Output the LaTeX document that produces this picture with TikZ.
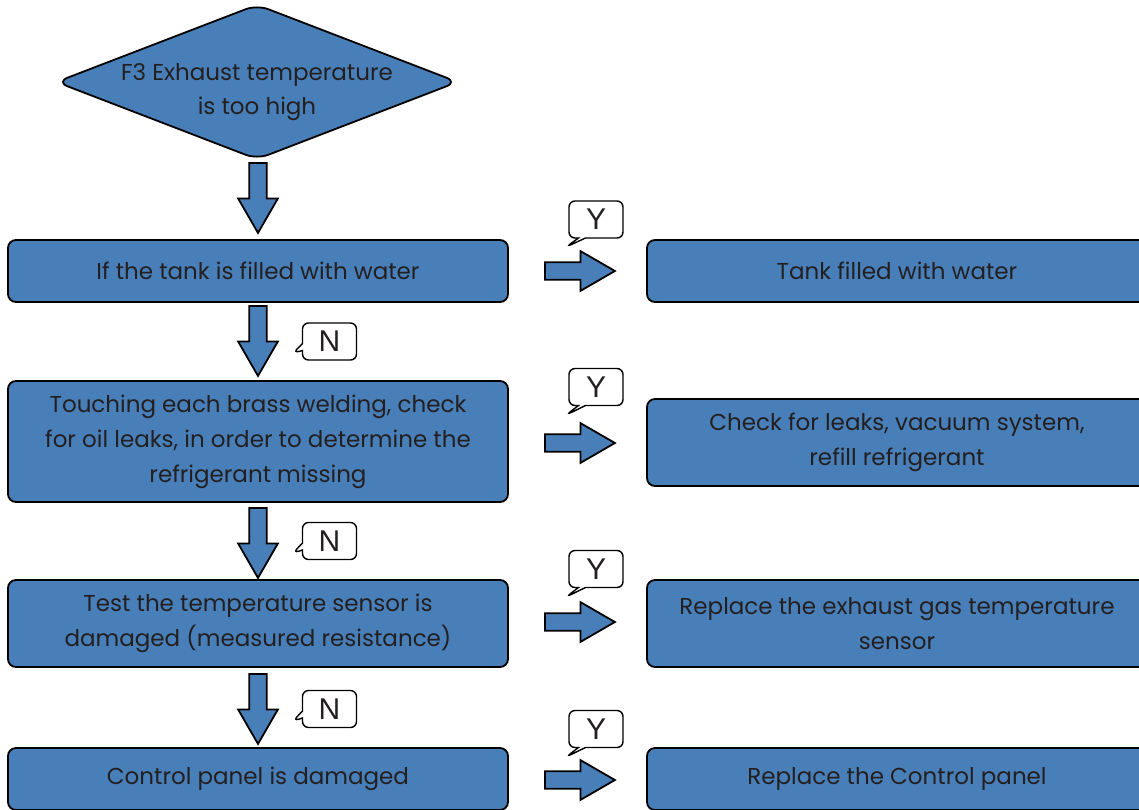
\documentclass[tikz,border=0pt]{standalone}
\usepackage{fontspec}
\setmainfont{Poppins}
\newfontfamily\tagfont{Liberation Sans}
\usetikzlibrary{shapes.geometric,shapes.arrows,shapes.callouts}

\definecolor{boxblue}{RGB}{72,127,184}
\definecolor{inkgray}{RGB}{35,31,32}

\tikzset{
	stepbox/.style={draw=black, fill=boxblue, line width=0.9pt, rounded corners=4pt,
		minimum width=250pt, inner sep=0pt, text=inkgray, align=center,
		font=\fontsize{11.5}{17.5}\selectfont},
	startbox/.style={draw=black, fill=boxblue, line width=0.9pt, shape=diamond, aspect=2.6,
		minimum width=201pt, minimum height=77.5pt, inner sep=0pt, rounded corners=6pt},
	starttext/.style={text=inkgray, align=center, font=\fontsize{11.5}{17}\selectfont},
	blockarrow/.style={draw=black, fill=boxblue, line width=0.9pt, shape=single arrow,
		minimum height=35pt, inner xsep=0pt, inner ysep=3.9pt, single arrow head extend=5.6pt,
		single arrow tip angle=60, anchor=tail},
	downarrow/.style={blockarrow, rotate=-90},
	tagbox/.style={draw=black, fill=white, line width=0.7pt, shape=rectangle callout,
		rounded corners=3pt, minimum width=27pt, minimum height=18.5pt, inner sep=0pt,
		callout pointer width=3.5pt, callout absolute pointer={#1},
		text=inkgray, font=\tagfont\fontsize{15}{15}\selectfont}
}

\begin{document}
\begin{tikzpicture}[x=0.5pt,y=-0.5pt]
	\useasboundingbox (0,0) rectangle (1139,809);

	% start
	\node[startbox] (s0) at (257,82) {};
	\node[starttext] (s0t) at (257,92) {F3 Exhaust temperature\\is too high};

	% checks on the left
	\node[stepbox, minimum height=31pt]   (q1) at (258,271)   {If the tank is filled with water};
	\node[stepbox, minimum height=60.5pt] (q2) at (258,441.5) {Touching each brass welding, check\\for oil leaks, in order to determine the\\refrigerant missing};
	\node[stepbox, minimum height=43.5pt] (q3) at (258,623.5) {Test the temperature sensor is\\damaged (measured resistance)};
	\node[stepbox, minimum height=31pt]   (q4) at (258,779)   {Control panel is damaged};

	% actions on the right
	\node[stepbox, minimum height=31pt]   (r1) at (897,271)   {Tank filled with water};
	\node[stepbox, minimum height=43.5pt] (r2) at (897,442.5) {Check for leaks, vacuum system,\\refill refrigerant};
	\node[stepbox, minimum height=43.5pt] (r3) at (897,623.5) {Replace the exhaust gas temperature\\sensor};
	\node[stepbox, minimum height=31pt]   (r4) at (897,779)   {Replace the Control panel};

	% arrows down
	\node[downarrow] (d0) at (258,162) {};
	\node[downarrow] (d1) at (258,305) {};
	\node[downarrow] (d2) at (258,507) {};
	\node[downarrow] (d3) at (258,673) {};

	% arrows right
	\node[blockarrow] (e1) at (544,271)   {};
	\node[blockarrow] (e2) at (544,443)   {};
	\node[blockarrow] (e3) at (544,622)   {};
	\node[blockarrow] (e4) at (544,780)   {};

	% tags
	\node[tagbox={(293,353)}] (n1) at (329.5,341.5) {N};
	\node[tagbox={(293,553)}] (n2) at (329.5,541)   {N};
	\node[tagbox={(293,721)}] (n3) at (329.5,709)   {N};

	\node[tagbox={(566,247)}] (y1) at (596,219.5) {Y};
	\node[tagbox={(566,415)}] (y2) at (596,387)   {Y};
	\node[tagbox={(566,597)}] (y3) at (596,569)   {Y};
	\node[tagbox={(566,757)}] (y4) at (596,729)   {Y};

\end{tikzpicture}
\end{document}
